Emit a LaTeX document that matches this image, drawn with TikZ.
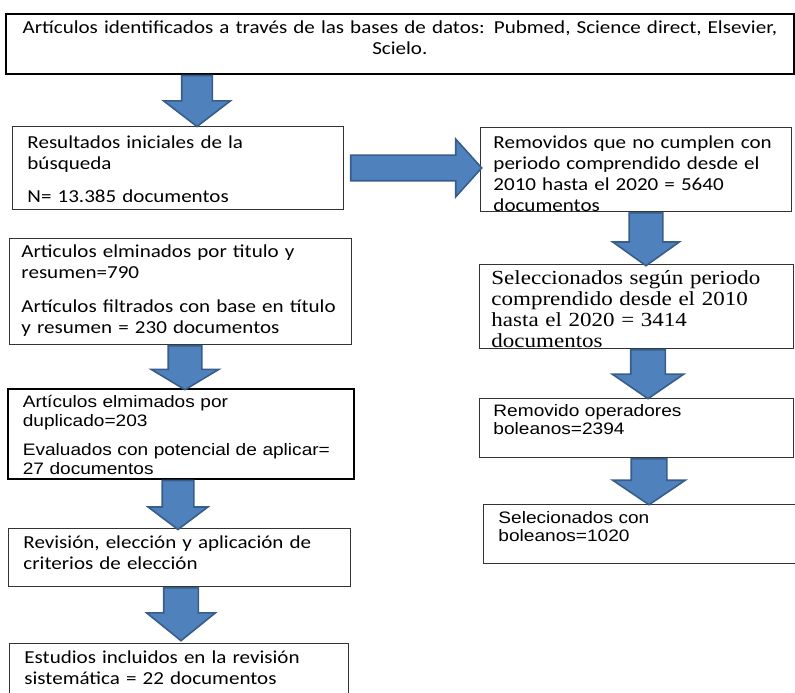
\documentclass[tikz,border=0pt]{standalone}
\usepackage{fontspec}
\setmainfont[FakeStretch=1.15]{Carlito}
\newfontfamily\arialfont[FakeStretch=1.15]{Liberation Sans}
\newfontfamily\timesfont[FakeStretch=1.15]{Liberation Serif}
\usetikzlibrary{shapes.arrows}
\definecolor{arrowfill}{RGB}{79,129,189}
\definecolor{arrowline}{RGB}{56,93,138}
\hyphenpenalty=10000

\begin{document}
\begin{tikzpicture}[x=1pt,y=-1pt,
    box/.style={draw=black!80,line width=0.9pt,anchor=north west,align=left,
      inner ysep=0pt,inner xsep=14pt},
    heavy/.style={box,draw=black,line width=1.7pt},
    cal/.style={font=\fontsize{18.3}{21}\selectfont},
    ari/.style={font=\arialfont\fontsize{16.6}{18.5}\selectfont},
    tms/.style={font=\timesfont\fontsize{20}{21}\selectfont},
    blockarrow/.style={single arrow,fill=arrowfill,draw=arrowline,line width=1.6pt,
      inner xsep=0pt,single arrow head indent=0pt,anchor=tail},
    down/.style={blockarrow,rotate=-90}]

    \useasboundingbox (0,0) rectangle (795,693);

    % left column
    \node[heavy,cal,align=center,inner xsep=5pt,text width=778pt,
      text height=20pt,text depth=40pt] (ID) at (5,13)
      {Artículos identificados a través de las bases de datos: Pubmed, Science direct, Elsevier,\\ Scielo.};
    \node[box,cal,inner xsep=15pt,text width=301pt,text height=22pt,text depth=61pt] (RES) at (12,126)
      {Resultados iniciales de la\\ búsqueda\\[12pt] N= 13.385 documentos};
    \node[box,cal,inner xsep=12pt,text width=318pt,text height=19pt,text depth=87pt] (ELIM) at (9,238)
      {Articulos elminados por titulo y\\ resumen=790\\[13pt] Artículos filtrados con base en título\\ y resumen = 230 documentos};
    \node[heavy,ari,inner xsep=15pt,text width=316pt,text height=19pt,text depth=71pt] (DUP) at (7,388)
      {Artículos elmimados por\\ duplicado=203\\[11pt] Evaluados con potencial de aplicar=\\ 27 documentos};
    \node[box,cal,inner xsep=15pt,text width=312pt,text height=20pt,text depth=38pt] (REV) at (8,528)
      {Revisión, elección y aplicación de\\ criterios de elección};
    \node[box,cal,inner xsep=15pt,text width=309pt,text height=20pt,text depth=42pt] (EST) at (9,643)
      {Estudios incluidos en la revisión\\ sistemática = 22 documentos};

    % right column
    \node[box,cal,inner xsep=13pt,text width=285pt,text height=21pt,text depth=63pt] (REM) at (480,127)
      {Removidos que no cumplen con\\ periodo comprendido desde el\\ 2010 hasta el 2020 = 5640\\ documentos};
    \node[box,tms,inner xsep=12pt,text width=290pt,text height=20pt,text depth=64pt] (SEL) at (479,264)
      {Seleccionados según periodo\\ comprendido desde el 2010\\ hasta el 2020 = 3414\\ documentos};
    \node[box,ari,inner xsep=14pt,text width=286pt,text height=18pt,text depth=41pt] (OPER) at (479,398)
      {Removido operadores\\ boleanos=2394};
    \node[box,ari,inner xsep=15pt,text width=287pt,text height=19pt,text depth=40pt] (BOL) at (483,504)
      {Selecionados con\\ boleanos=1020};

    % block arrows
    \node[down,minimum height=51pt,inner ysep=14.5pt,single arrow head extend=18pt,
      single arrow tip angle=105] (A1) at (197,0 |- ID.south) {};
    \node[blockarrow,minimum height=131pt,inner ysep=12pt,single arrow head extend=16pt,
      single arrow tip angle=96] (A2) at ([xshift=6pt]RES.east) {};
    \node[down,minimum height=53pt,inner ysep=16pt,single arrow head extend=16.5pt,
      single arrow tip angle=109] (A3) at (646,0 |- REM.south) {};
    \node[down,minimum height=44pt,inner ysep=16pt,single arrow head extend=17pt,
      single arrow tip angle=118] (A4) at (185,0 |- ELIM.south) {};
    \node[down,minimum height=49pt,inner ysep=15pt,single arrow head extend=14pt,
      single arrow tip angle=106] (A5) at (178,0 |- DUP.south) {};
    \node[down,minimum height=53pt,inner ysep=16.5pt,single arrow head extend=17pt,
      single arrow tip angle=102] (A6) at (181,0 |- REV.south) {};
    \node[down,minimum height=49pt,inner ysep=16.5pt,single arrow head extend=18.5pt,
      single arrow tip angle=111] (A7) at (648,0 |- SEL.south) {};
    \node[down,minimum height=46pt,inner ysep=17pt,single arrow head extend=18.5pt,
      single arrow tip angle=112] (A8) at (649,0 |- OPER.south) {};

\end{tikzpicture}
\end{document}
